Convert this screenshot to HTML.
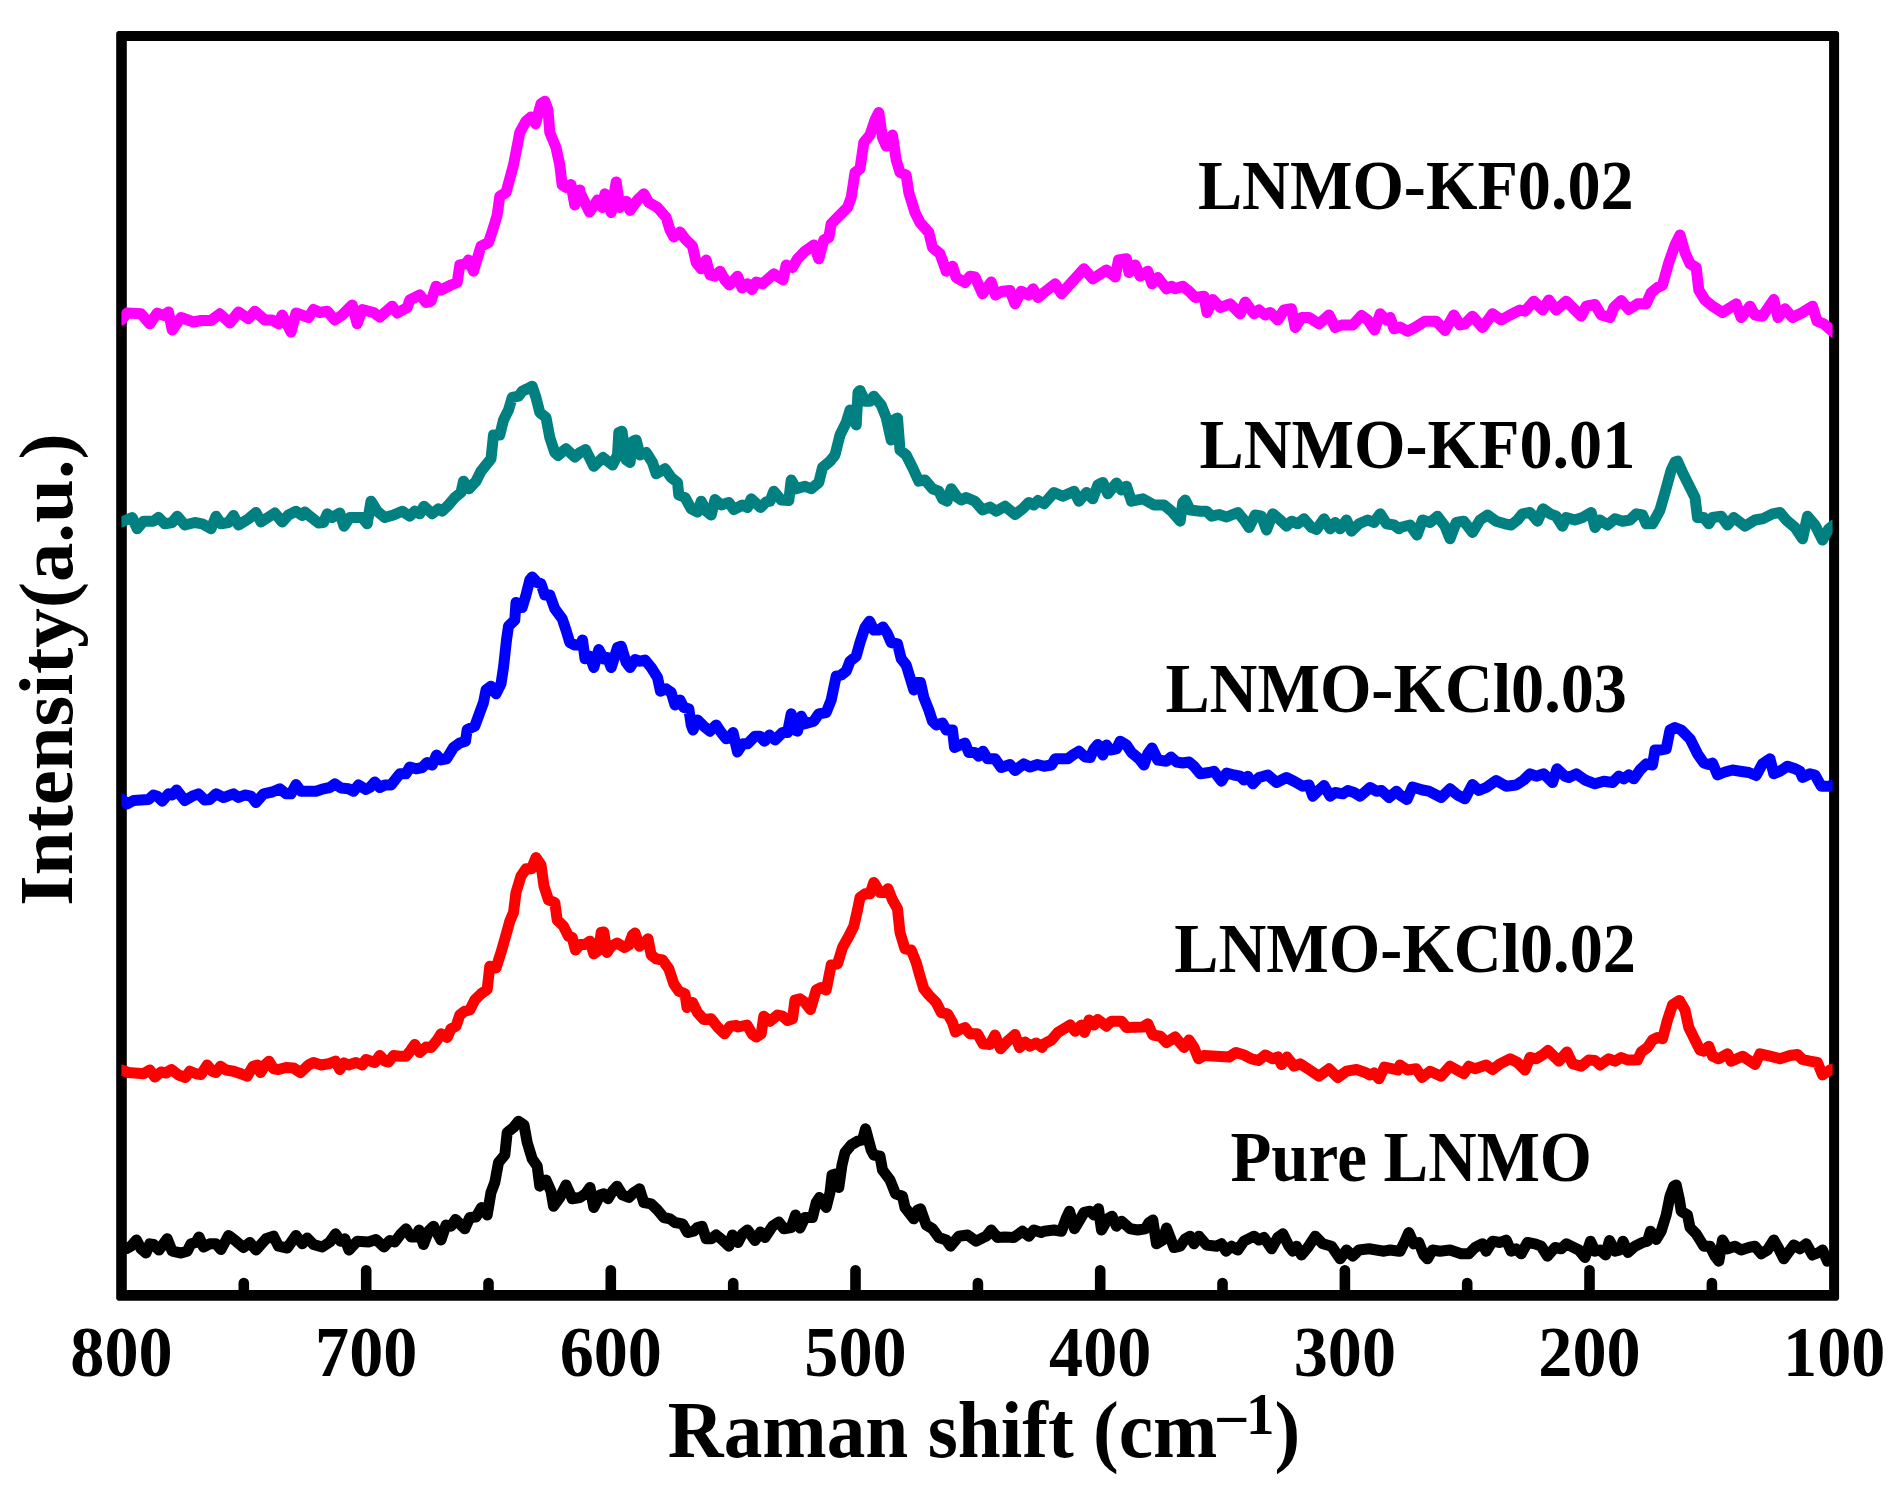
<!DOCTYPE html>
<html><head><meta charset="utf-8"><title>Raman</title>
<style>html,body{margin:0;padding:0;background:#fff}svg{display:block}text{font-family:"Liberation Serif",serif;font-weight:bold;fill:#000}</style></head>
<body>
<svg width="1904" height="1487" viewBox="0 0 1904 1487">
<rect width="1904" height="1487" fill="#fff"/>
<g stroke="#000" stroke-width="10.6" stroke-linecap="round">
<line x1="1711.9" y1="1294.5" x2="1711.9" y2="1283.0"/>
<line x1="1589.5" y1="1294.5" x2="1589.5" y2="1270.2"/>
<line x1="1467.2" y1="1294.5" x2="1467.2" y2="1283.0"/>
<line x1="1344.9" y1="1294.5" x2="1344.9" y2="1270.2"/>
<line x1="1222.5" y1="1294.5" x2="1222.5" y2="1283.0"/>
<line x1="1100.2" y1="1294.5" x2="1100.2" y2="1270.2"/>
<line x1="977.9" y1="1294.5" x2="977.9" y2="1283.0"/>
<line x1="855.5" y1="1294.5" x2="855.5" y2="1270.2"/>
<line x1="733.2" y1="1294.5" x2="733.2" y2="1283.0"/>
<line x1="610.8" y1="1294.5" x2="610.8" y2="1270.2"/>
<line x1="488.5" y1="1294.5" x2="488.5" y2="1283.0"/>
<line x1="366.2" y1="1294.5" x2="366.2" y2="1270.2"/>
<line x1="243.8" y1="1294.5" x2="243.8" y2="1283.0"/>
</g>
<path fill="#000" fill-rule="evenodd" d="M118 30.9H1837.3L1839.1 32.7V1299L1837.3 1300.8H118L116.2 1299V32.7ZM126.8 40.9V1290.1H1829.1V40.9Z"/>
<clipPath id="cp"><rect x="121.4" y="30" width="1711.2" height="1270"/></clipPath>
<g clip-path="url(#cp)" fill="none" stroke-width="11" stroke-linejoin="round" stroke-linecap="butt">
<polyline stroke="#000000" points="113.5,1250.0 121.5,1250.0 126.0,1248.8 131.0,1246.2 136.5,1240.0 141.0,1248.8 146.0,1253.0 149.8,1243.8 153.5,1244.5 159.0,1250.0 167.2,1238.8 172.2,1251.2 181.0,1253.0 187.2,1251.2 191.0,1243.8 196.0,1242.5 199.0,1237.0 203.5,1247.0 209.8,1243.8 216.0,1243.8 221.0,1249.5 228.5,1235.5 236.0,1241.2 243.5,1247.5 249.8,1242.5 256.0,1250.0 266.0,1238.8 273.5,1236.2 278.5,1246.2 287.2,1248.0 296.0,1235.5 302.2,1243.8 307.2,1238.0 313.5,1244.5 322.2,1247.0 329.8,1242.0 335.5,1233.8 340.5,1241.2 344.8,1238.8 349.0,1250.0 357.2,1241.2 368.5,1242.0 376.0,1239.5 384.0,1247.0 389.8,1240.5 394.8,1242.0 401.0,1233.8 406.0,1228.8 411.0,1237.0 416.0,1237.0 419.0,1230.0 423.5,1244.5 428.5,1231.2 433.5,1226.2 441.0,1240.0 446.0,1225.0 451.0,1226.2 455.5,1219.5 464.8,1228.8 469.8,1217.5 476.0,1217.0 481.5,1207.5 487.2,1215.0 491.0,1192.5 494.8,1182.5 498.5,1162.5 504.8,1155.0 507.2,1132.5 513.5,1127.5 518.5,1121.2 524.0,1125.0 527.2,1142.5 532.2,1158.8 537.2,1166.2 539.8,1186.2 546.0,1180.0 551.0,1191.2 553.5,1206.2 559.8,1197.5 566.0,1185.0 572.2,1198.8 580.0,1197.5 585.5,1193.8 590.0,1187.5 593.8,1207.5 600.0,1195.0 603.8,1193.8 608.0,1198.8 612.5,1191.2 617.0,1186.2 622.5,1195.0 628.8,1197.5 633.8,1192.5 639.5,1188.8 643.8,1202.5 651.2,1203.8 657.5,1210.0 663.8,1217.5 670.0,1218.8 675.0,1222.5 682.5,1223.8 687.5,1232.5 693.8,1231.2 697.5,1227.5 702.0,1226.2 706.2,1238.8 711.2,1238.8 716.2,1235.0 722.5,1240.0 728.8,1246.2 732.5,1235.0 738.0,1242.5 742.5,1233.8 747.5,1230.0 755.0,1240.5 760.5,1232.0 765.0,1237.5 772.5,1226.2 778.8,1222.0 783.8,1228.8 791.2,1227.5 795.5,1215.0 800.0,1228.0 805.0,1217.5 812.5,1217.5 816.2,1202.5 819.5,1197.5 826.2,1207.5 830.0,1192.5 832.0,1175.0 836.2,1173.8 838.8,1187.5 842.0,1165.0 845.0,1152.5 851.2,1145.0 857.5,1141.2 862.5,1140.0 865.5,1128.8 871.2,1150.0 873.8,1155.0 880.0,1156.2 882.5,1170.0 890.0,1180.0 895.5,1193.8 902.5,1196.2 905.0,1207.5 913.8,1218.8 917.5,1210.0 920.5,1208.8 926.2,1225.0 932.5,1228.8 938.8,1237.5 946.2,1240.0 950.5,1246.2 958.8,1236.2 967.5,1235.0 976.2,1241.2 986.2,1236.2 991.2,1230.0 997.5,1237.5 1005.0,1237.0 1013.8,1237.5 1022.5,1231.2 1028.8,1236.2 1033.8,1230.0 1041.2,1232.5 1044.0,1231.2 1054.0,1230.0 1061.5,1231.2 1066.5,1217.5 1069.5,1211.2 1074.5,1228.8 1079.0,1221.2 1084.0,1212.5 1090.2,1211.2 1094.0,1215.0 1098.5,1208.8 1101.5,1230.0 1107.8,1218.8 1112.0,1216.2 1116.5,1226.2 1121.5,1221.2 1130.2,1228.8 1137.8,1230.0 1145.2,1228.8 1149.0,1222.5 1152.8,1220.0 1156.5,1243.8 1162.8,1240.0 1166.5,1228.0 1174.0,1247.5 1180.2,1246.2 1185.2,1238.8 1190.2,1236.2 1194.0,1243.8 1199.0,1236.2 1206.5,1245.0 1216.5,1246.2 1221.5,1243.8 1226.0,1251.2 1231.5,1246.2 1237.8,1250.0 1244.0,1241.2 1254.0,1236.2 1259.0,1240.0 1264.0,1237.5 1271.5,1248.8 1277.8,1237.5 1282.8,1233.8 1289.0,1246.2 1292.8,1251.2 1296.5,1246.2 1301.5,1255.0 1307.8,1247.5 1315.2,1236.2 1322.8,1243.8 1331.5,1246.2 1340.2,1258.8 1346.5,1250.0 1352.8,1256.2 1359.0,1250.0 1369.0,1248.8 1376.5,1250.0 1384.0,1251.2 1390.2,1250.0 1399.0,1251.2 1400.0,1251.2 1405.0,1241.2 1408.8,1232.5 1413.8,1243.8 1418.8,1242.5 1423.8,1255.0 1427.5,1258.8 1432.5,1250.0 1440.0,1251.2 1450.0,1250.0 1461.2,1253.8 1468.8,1253.8 1475.0,1247.5 1482.5,1243.8 1486.2,1251.2 1492.5,1241.2 1500.0,1242.5 1506.2,1240.0 1511.2,1251.2 1516.2,1248.8 1521.2,1253.8 1527.5,1242.5 1535.0,1243.8 1541.2,1246.2 1547.5,1256.2 1555.0,1247.5 1561.2,1248.8 1566.2,1243.8 1571.2,1246.2 1578.8,1250.0 1585.0,1257.5 1590.5,1241.2 1595.0,1251.2 1600.0,1250.0 1605.5,1255.0 1609.5,1240.5 1615.0,1251.2 1620.0,1250.0 1623.0,1241.2 1628.0,1252.5 1635.0,1246.2 1642.5,1242.5 1647.5,1241.2 1650.5,1231.2 1656.2,1239.5 1661.2,1231.2 1666.2,1215.0 1670.0,1196.2 1673.8,1186.2 1676.2,1185.0 1679.5,1200.0 1681.2,1211.2 1687.5,1215.0 1690.0,1227.5 1696.2,1233.8 1700.0,1240.0 1703.8,1246.2 1710.0,1246.2 1715.0,1256.2 1718.8,1261.2 1722.5,1240.0 1727.5,1248.8 1735.0,1246.2 1741.2,1250.0 1748.8,1247.5 1755.0,1246.2 1761.2,1253.8 1767.5,1250.0 1773.8,1240.0 1778.8,1248.8 1783.8,1258.8 1793.8,1245.0 1800.0,1248.8 1806.2,1243.8 1812.5,1255.0 1818.8,1252.5 1822.5,1250.0 1827.5,1261.2 1833.8,1260.0 1841.8,1260.0"/>
<polyline stroke="#ff0000" points="113.5,1070.0 121.5,1070.0 128.5,1072.5 143.5,1073.8 149.8,1070.0 154.8,1077.0 161.0,1072.0 166.0,1073.0 171.5,1069.5 178.5,1075.0 185.5,1077.5 189.8,1071.2 196.0,1073.8 201.0,1074.5 207.2,1065.0 212.2,1071.2 216.0,1072.5 220.5,1066.2 226.0,1070.0 233.5,1071.2 241.0,1073.8 247.2,1076.2 253.0,1066.2 257.2,1065.0 260.5,1072.5 266.0,1063.8 269.0,1061.2 273.5,1068.8 278.5,1069.5 286.0,1067.5 293.5,1068.0 300.5,1072.5 308.5,1065.0 313.5,1062.5 321.0,1065.0 328.5,1063.8 335.5,1061.2 339.8,1069.5 344.0,1063.0 348.5,1065.0 356.0,1062.5 362.2,1065.0 366.0,1059.5 374.8,1062.5 379.8,1055.5 384.8,1061.2 388.5,1062.0 393.5,1055.5 399.8,1056.2 406.0,1056.2 411.0,1050.0 414.8,1044.5 419.8,1052.5 426.0,1047.0 431.0,1047.5 437.2,1040.0 441.0,1033.8 447.2,1037.5 451.0,1028.8 456.0,1026.2 459.8,1015.0 464.8,1011.2 469.8,1010.0 474.8,1000.0 481.0,993.8 487.2,989.5 489.8,966.2 496.0,968.0 501.0,952.5 506.0,935.0 509.8,921.2 513.5,912.5 516.0,892.5 521.0,876.2 526.0,868.8 531.5,868.8 536.0,857.5 541.0,865.0 544.0,886.2 548.5,900.0 554.8,902.5 557.2,920.0 563.5,926.2 568.5,936.2 572.2,937.5 575.5,950.0 580.0,944.5 585.0,944.5 590.0,941.2 593.8,953.8 598.8,950.0 601.2,932.5 603.8,932.0 607.0,952.5 611.2,946.2 617.0,943.0 624.5,947.5 628.8,945.0 632.5,935.0 635.0,933.0 639.5,946.2 644.5,942.5 648.0,938.8 651.2,955.0 656.2,958.8 662.5,960.0 668.8,968.8 673.8,983.8 678.8,991.2 685.0,993.8 687.0,1007.5 692.5,1002.5 697.5,1012.5 703.8,1019.5 711.2,1018.8 717.5,1027.0 724.5,1033.8 730.0,1026.2 736.2,1025.5 738.0,1027.0 747.0,1025.0 752.5,1034.5 756.2,1037.0 761.2,1033.8 763.8,1016.2 770.0,1021.2 777.5,1015.0 782.5,1016.2 787.5,1020.5 792.5,1018.8 795.0,1000.0 800.0,998.8 805.0,1002.5 810.5,1009.5 816.2,990.0 821.2,987.5 826.2,990.0 831.2,965.0 837.5,963.8 842.5,947.5 848.8,936.2 853.8,926.2 857.5,910.0 860.0,897.5 865.0,893.8 870.0,893.8 873.8,882.5 880.0,892.5 885.0,892.5 888.0,888.8 892.5,900.0 897.5,908.8 900.0,932.5 905.0,948.8 911.2,950.0 916.2,962.5 920.0,976.2 923.8,988.8 928.8,995.0 936.2,1002.5 941.2,1012.5 947.5,1013.8 952.5,1022.5 955.5,1032.0 960.0,1029.5 965.0,1027.5 970.0,1033.8 977.5,1033.8 983.0,1043.8 990.0,1044.5 995.0,1035.0 1000.5,1048.8 1007.5,1041.2 1015.0,1034.5 1019.5,1047.5 1025.0,1042.0 1030.0,1046.2 1036.2,1043.0 1042.0,1047.5 1044.0,1043.8 1051.5,1040.0 1057.8,1032.5 1064.0,1028.8 1070.2,1025.0 1075.2,1031.2 1081.5,1025.0 1084.5,1032.5 1089.0,1020.0 1094.0,1025.0 1097.8,1019.5 1106.5,1026.2 1111.5,1021.2 1121.5,1021.2 1126.5,1027.5 1142.8,1027.0 1147.8,1023.8 1152.8,1035.0 1160.2,1036.2 1166.5,1042.5 1175.2,1037.0 1184.0,1047.5 1189.0,1040.0 1194.0,1047.5 1198.5,1058.8 1204.0,1055.5 1229.0,1057.0 1236.0,1052.5 1244.0,1055.0 1251.5,1058.8 1258.5,1060.5 1265.2,1055.0 1272.8,1058.8 1277.8,1057.0 1281.5,1064.5 1287.0,1057.0 1294.0,1066.2 1300.2,1063.8 1309.0,1069.5 1319.0,1076.2 1329.0,1068.8 1337.8,1077.5 1346.5,1071.2 1356.5,1069.5 1365.2,1072.5 1370.2,1075.0 1374.0,1073.0 1379.0,1078.8 1384.5,1067.0 1392.8,1068.8 1397.8,1070.0 1400.0,1065.0 1407.5,1070.0 1416.2,1068.8 1422.0,1077.5 1430.0,1071.2 1441.2,1076.2 1450.0,1066.2 1463.8,1073.8 1468.8,1066.2 1475.0,1068.8 1486.2,1065.0 1492.5,1069.5 1500.0,1063.8 1510.0,1058.8 1517.5,1062.5 1525.0,1070.0 1530.0,1057.5 1536.2,1058.8 1542.5,1055.0 1548.0,1050.5 1558.8,1061.2 1567.0,1052.0 1572.5,1063.8 1581.2,1066.2 1588.8,1060.0 1595.0,1060.5 1600.0,1065.0 1608.8,1058.8 1615.0,1061.2 1621.2,1057.5 1627.5,1060.0 1637.5,1060.0 1641.2,1052.0 1647.5,1047.5 1652.5,1040.0 1657.5,1037.5 1662.5,1038.8 1667.5,1020.0 1672.5,1005.0 1679.5,1000.5 1685.0,1010.0 1688.8,1027.5 1695.0,1040.0 1700.0,1050.0 1703.8,1051.2 1708.8,1046.2 1712.5,1056.2 1718.8,1058.8 1727.5,1053.8 1731.2,1061.2 1742.5,1056.2 1755.0,1064.5 1760.0,1053.8 1770.0,1056.2 1780.0,1058.8 1790.0,1055.5 1797.5,1054.5 1802.5,1059.5 1810.0,1061.2 1817.5,1062.5 1822.5,1075.0 1830.0,1070.0 1833.8,1068.8 1841.8,1068.8"/>
<polyline stroke="#0000ff" points="113.5,798.8 121.5,798.8 127.2,803.8 133.5,800.5 148.5,799.5 153.5,795.0 157.2,796.2 162.2,801.2 168.5,793.8 172.2,795.0 176.5,790.0 184.8,800.5 192.2,796.2 198.5,793.8 204.8,800.0 209.8,799.5 216.0,793.8 223.5,797.5 227.2,796.2 233.5,793.8 238.5,797.5 244.8,795.0 251.0,796.2 256.0,802.5 263.5,793.8 272.2,792.0 279.8,788.8 286.0,793.8 291.0,793.8 296.0,784.5 301.0,791.2 316.0,791.2 323.5,788.8 329.8,787.5 334.8,783.8 341.0,788.0 348.5,788.8 353.5,791.2 358.5,785.0 366.0,789.5 369.8,787.5 374.8,782.0 379.8,787.5 384.8,785.0 391.0,785.0 399.8,773.8 406.0,773.8 409.8,767.0 416.0,768.8 422.2,767.5 427.2,762.5 432.2,765.0 436.5,755.0 441.0,760.0 446.5,758.8 453.5,747.5 459.8,743.0 465.5,741.2 467.2,729.5 474.8,726.2 479.8,712.5 483.5,702.5 486.0,690.0 491.0,686.2 496.0,693.8 501.0,683.8 503.5,667.5 506.5,640.0 508.5,626.2 514.8,620.0 516.0,602.5 522.2,607.5 526.0,595.0 529.8,580.0 532.2,577.0 537.2,582.5 541.0,583.8 544.8,595.0 549.8,595.0 554.8,608.8 562.2,618.8 566.0,630.0 569.8,642.5 574.8,645.0 580.0,645.0 582.5,640.0 585.0,658.8 590.0,656.2 593.8,667.5 598.8,649.5 603.8,658.8 607.5,657.5 611.2,667.5 617.5,647.5 621.2,646.2 626.2,662.5 630.0,667.5 635.0,659.5 640.0,661.2 645.0,660.0 651.2,667.5 657.5,677.5 660.5,691.2 666.2,688.8 671.2,692.5 675.0,705.0 680.0,700.0 683.8,707.5 688.8,708.8 691.2,725.0 693.0,730.0 697.5,720.0 703.8,726.2 710.0,731.2 716.2,725.0 721.2,732.5 726.2,738.8 730.0,737.5 733.0,732.5 737.5,752.0 742.5,743.8 747.5,743.8 755.0,736.2 760.0,736.2 764.5,741.2 769.5,735.0 775.0,740.0 782.5,732.5 787.5,732.5 791.2,713.8 794.5,730.0 797.5,731.2 801.2,716.2 805.0,723.8 813.8,721.2 818.8,713.8 826.2,712.5 831.2,700.0 836.2,676.2 841.2,675.0 846.2,671.2 850.0,661.2 856.2,656.2 860.0,642.5 865.0,627.5 869.5,621.2 873.8,630.0 878.8,630.0 883.0,627.0 887.5,633.8 891.2,642.5 897.5,643.8 901.2,658.8 906.2,665.0 910.0,677.5 913.8,690.0 916.2,682.5 920.5,682.5 923.8,697.5 928.8,710.0 932.5,721.2 936.2,725.0 942.5,723.0 946.2,730.0 952.5,730.0 954.5,747.5 960.0,745.0 965.0,743.0 968.8,752.5 975.0,752.5 978.8,756.2 983.0,751.2 987.5,758.8 995.0,758.8 1001.2,767.5 1010.0,764.5 1015.0,770.5 1023.8,763.8 1030.0,767.0 1037.5,764.5 1044.0,766.2 1051.5,765.0 1055.2,758.8 1067.8,758.8 1072.8,755.0 1079.0,751.2 1085.2,757.0 1090.2,757.5 1094.0,748.8 1097.8,744.5 1102.8,755.0 1106.5,745.0 1110.2,750.0 1116.5,748.8 1120.2,741.2 1126.5,745.0 1131.5,752.5 1139.0,758.8 1144.0,765.0 1147.8,753.8 1152.0,748.0 1157.8,760.0 1166.5,761.2 1171.0,757.0 1176.5,762.0 1182.8,763.0 1189.0,762.0 1194.0,766.2 1200.2,773.8 1209.0,772.5 1214.0,771.2 1221.5,781.2 1226.5,773.0 1234.0,775.0 1240.2,776.2 1244.0,780.0 1247.8,776.2 1252.8,783.8 1259.0,777.5 1267.8,775.0 1276.5,782.5 1286.5,777.5 1294.0,781.2 1302.8,786.2 1309.0,785.0 1312.8,796.2 1319.0,790.0 1324.0,785.5 1330.2,796.2 1335.2,792.5 1342.8,793.8 1347.8,790.5 1354.0,792.5 1360.2,796.2 1370.2,787.5 1376.5,791.2 1381.5,790.5 1389.0,797.5 1396.5,791.2 1400.0,795.0 1407.0,799.5 1412.5,787.0 1422.5,790.0 1428.8,791.2 1441.2,797.5 1450.0,788.8 1457.5,795.0 1465.0,798.8 1472.5,784.5 1478.8,790.5 1486.2,787.5 1496.2,780.5 1506.2,786.2 1516.2,785.0 1523.8,780.0 1530.0,773.8 1536.2,776.2 1543.8,773.8 1552.5,782.5 1557.0,768.8 1565.0,776.2 1568.8,777.5 1576.2,773.8 1585.0,780.0 1595.0,783.8 1603.8,781.2 1612.5,782.5 1618.8,776.2 1623.8,778.8 1628.8,775.0 1633.8,778.8 1640.0,770.0 1646.2,763.8 1652.5,765.0 1655.0,750.0 1661.2,750.0 1666.2,748.8 1670.0,730.0 1675.0,727.5 1681.2,730.0 1690.0,738.8 1697.5,753.8 1703.8,763.0 1708.8,764.5 1712.5,763.0 1717.5,775.0 1725.0,772.0 1732.5,770.0 1740.0,771.2 1748.8,772.5 1756.2,775.5 1762.5,763.8 1770.0,758.8 1773.8,773.8 1780.0,771.2 1787.5,766.2 1795.0,768.8 1800.0,771.2 1802.5,777.5 1810.0,773.8 1815.0,775.0 1821.2,786.2 1828.8,786.2 1833.8,785.0 1841.8,785.0"/>
<polyline stroke="#008080" points="113.5,522.0 121.5,522.0 132.2,517.5 137.2,528.8 143.5,521.2 153.5,521.2 158.5,517.5 164.8,523.8 172.2,522.5 177.2,516.2 184.8,525.0 194.8,522.5 202.2,523.8 211.0,528.8 216.0,516.2 221.0,523.8 228.5,522.5 233.5,515.5 238.5,525.0 248.5,518.8 256.0,512.5 261.0,522.0 274.8,513.0 282.2,522.0 288.5,515.0 296.0,511.2 302.2,515.5 304.8,512.0 309.8,516.2 318.5,523.0 323.5,522.5 327.2,513.8 332.2,517.5 339.8,513.0 344.0,526.2 349.8,517.5 362.2,517.5 367.2,523.8 371.0,501.2 377.2,511.2 384.8,517.5 393.5,515.0 402.2,511.2 409.8,516.2 414.8,511.2 419.8,513.8 424.0,506.2 432.2,513.8 438.5,508.8 442.2,511.2 448.5,505.0 454.8,497.5 461.0,492.5 463.5,481.2 469.0,488.8 476.0,481.2 481.0,471.2 486.0,465.0 491.0,458.8 493.5,435.0 499.8,435.0 503.5,420.0 508.5,410.0 512.2,397.5 518.5,396.2 522.2,391.2 527.2,388.8 532.2,386.2 536.0,397.5 539.8,412.5 546.0,417.5 549.8,437.5 554.8,452.5 558.0,455.5 566.0,448.8 574.8,457.0 580.0,452.5 585.5,449.5 593.8,466.2 603.0,457.5 612.5,465.0 617.5,455.0 618.8,432.5 622.0,431.2 626.2,460.0 630.0,462.5 633.0,441.2 636.2,440.0 640.0,455.0 646.2,452.5 652.5,462.5 656.2,473.8 665.0,468.8 671.2,477.5 677.5,482.5 678.8,495.0 685.0,497.5 691.2,508.8 697.5,512.0 701.2,501.2 706.2,511.2 711.2,515.0 715.0,499.5 721.2,505.0 728.8,502.5 733.8,509.5 742.5,505.0 747.5,507.5 751.2,498.8 760.5,507.5 766.2,502.0 770.0,501.2 773.8,491.2 781.2,500.0 788.8,500.5 791.2,480.0 796.2,488.8 805.0,486.2 811.2,488.8 818.8,482.5 822.5,467.5 830.0,461.2 835.0,455.0 840.0,435.0 846.2,422.5 850.0,410.0 856.2,425.0 858.0,392.5 860.0,390.5 865.0,401.2 870.0,401.2 873.8,396.2 881.2,405.0 886.2,417.5 891.2,440.0 895.5,418.8 897.5,418.0 900.0,450.0 906.2,455.0 912.5,467.5 918.8,481.2 925.0,480.0 932.5,488.8 938.8,491.2 942.5,498.8 947.0,501.2 951.2,488.8 957.5,497.5 961.2,500.0 966.2,497.5 975.0,501.2 982.5,510.0 990.0,507.0 996.2,511.2 1005.0,506.2 1015.0,514.5 1022.5,508.8 1028.8,502.5 1033.8,505.0 1038.0,500.5 1044.0,503.8 1054.0,492.5 1062.8,496.2 1074.0,491.2 1079.0,501.2 1086.5,492.5 1092.8,498.8 1097.8,485.0 1102.8,482.5 1107.8,493.8 1116.5,483.0 1121.5,490.0 1126.5,486.2 1131.5,501.2 1142.8,498.8 1154.0,505.0 1164.0,505.0 1171.5,511.2 1180.2,521.2 1182.8,502.5 1185.2,500.0 1190.2,510.0 1200.2,511.2 1206.5,511.2 1211.5,516.2 1219.0,514.5 1226.5,517.0 1237.8,512.5 1244.0,520.0 1249.0,527.5 1255.2,515.0 1261.5,516.2 1266.5,530.0 1272.8,513.8 1280.2,520.0 1286.5,526.2 1291.5,521.2 1297.8,523.8 1304.0,518.8 1311.5,527.5 1316.5,529.5 1324.0,518.8 1330.2,528.8 1335.2,522.5 1340.2,528.8 1346.5,520.0 1351.5,531.2 1359.0,523.8 1367.8,520.0 1374.0,522.5 1380.2,513.8 1386.5,523.8 1394.0,525.0 1399.0,528.8 1400.0,527.5 1410.0,525.0 1417.0,535.0 1422.5,520.0 1430.0,522.5 1437.5,516.2 1445.0,526.2 1450.0,538.8 1456.2,522.5 1463.8,521.2 1472.5,532.5 1480.0,520.0 1487.5,515.0 1496.2,521.2 1505.0,523.8 1511.2,525.0 1517.5,520.0 1522.5,513.8 1530.0,512.5 1537.5,521.2 1543.0,508.8 1550.0,513.8 1556.2,516.2 1562.5,526.2 1566.2,517.5 1575.0,520.0 1582.5,517.5 1591.2,512.5 1595.0,527.5 1600.0,520.0 1607.5,525.0 1615.0,518.8 1622.5,521.2 1630.0,520.0 1636.2,513.8 1642.5,515.0 1646.2,523.8 1652.5,523.8 1660.0,510.0 1665.0,492.5 1671.2,470.0 1675.0,462.0 1677.5,461.2 1682.5,472.5 1690.0,487.5 1695.0,497.5 1697.5,517.5 1703.8,517.5 1708.8,523.8 1712.5,517.5 1721.2,516.2 1727.5,525.0 1733.8,517.5 1745.0,526.2 1755.0,520.0 1762.5,518.8 1772.5,513.8 1780.0,512.5 1786.2,520.0 1795.0,527.5 1802.5,538.8 1807.5,516.2 1815.0,525.0 1822.5,540.0 1828.8,528.8 1833.8,525.0 1841.8,525.0"/>
<polyline stroke="#ff00ff" points="113.5,320.0 121.5,320.0 127.2,313.0 141.0,313.8 149.8,323.8 157.2,313.0 163.5,315.5 168.5,312.0 172.2,330.0 181.0,317.5 193.5,322.0 201.0,320.5 211.0,320.5 219.8,313.8 229.8,323.0 238.5,312.0 248.5,318.8 254.8,311.2 264.8,320.0 272.2,320.0 278.5,323.8 282.2,315.0 291.0,332.0 296.0,313.0 308.5,317.5 313.5,309.5 319.8,312.5 327.2,311.2 334.8,320.0 342.2,315.0 352.2,305.0 357.2,323.8 362.2,309.5 373.5,312.5 379.8,317.0 392.2,306.2 397.2,313.0 407.2,307.5 409.8,300.0 419.8,295.0 426.0,302.5 431.0,301.2 436.0,286.2 441.0,290.0 451.0,285.0 457.2,282.5 459.8,265.0 466.0,263.8 468.5,260.0 473.5,271.2 481.0,246.2 488.5,242.5 493.5,227.5 497.2,215.0 499.8,196.2 506.0,192.5 513.5,165.0 519.8,132.5 526.0,121.2 531.0,117.0 535.5,123.8 541.0,103.8 544.8,101.2 548.0,110.0 549.8,132.5 556.0,147.5 559.8,165.0 562.2,185.0 566.0,187.5 571.0,184.5 574.8,205.0 579.8,190.0 580.0,192.5 589.5,212.0 597.5,200.0 602.5,207.5 605.0,193.8 611.2,212.5 616.2,182.0 620.0,207.5 626.2,201.2 630.0,210.5 637.5,200.0 643.8,193.8 648.8,202.5 657.5,207.5 666.2,217.5 670.0,230.0 673.8,237.0 680.0,232.0 685.0,238.8 692.5,246.2 696.2,262.5 701.2,268.8 706.2,260.0 710.0,275.0 715.0,276.2 720.0,271.2 725.0,280.0 729.5,285.0 737.5,276.2 742.0,288.0 747.5,283.8 752.0,289.5 756.2,282.0 762.5,283.8 773.8,273.8 783.0,280.0 786.2,265.0 792.5,267.5 797.5,258.8 805.0,251.2 813.8,245.0 818.8,258.8 823.8,240.0 828.8,237.5 831.2,223.8 840.0,215.0 847.5,207.5 851.2,197.5 855.0,172.5 860.0,168.8 863.8,142.5 870.0,135.0 875.0,120.0 878.8,112.5 882.5,137.5 886.2,146.2 892.5,135.0 896.2,160.0 900.0,172.5 906.2,175.0 908.8,192.5 915.0,212.5 920.0,222.5 928.8,232.5 932.5,247.5 940.0,253.8 945.0,267.5 946.2,271.2 952.5,266.2 956.2,277.5 965.0,282.5 970.0,276.2 975.0,277.0 982.5,293.8 991.2,282.0 995.5,295.0 1002.5,291.2 1010.0,290.5 1015.0,303.8 1021.2,291.2 1028.8,295.0 1033.0,288.8 1038.0,297.5 1044.0,292.5 1055.2,283.8 1061.5,293.8 1071.5,282.5 1084.0,268.8 1092.8,278.8 1106.5,270.0 1115.2,277.0 1118.5,260.0 1126.5,258.8 1129.0,272.5 1135.2,265.0 1140.2,276.2 1147.8,271.2 1152.0,283.8 1157.8,277.5 1166.5,288.8 1171.5,286.2 1175.2,288.8 1182.8,286.2 1189.0,291.2 1195.2,297.5 1204.0,296.2 1207.0,312.5 1212.8,299.5 1220.2,307.5 1230.2,303.8 1240.2,313.8 1245.2,302.0 1254.0,313.8 1259.0,310.0 1265.2,315.0 1270.2,312.5 1277.8,320.0 1284.0,310.0 1291.5,308.8 1295.2,327.5 1301.5,317.5 1309.0,317.5 1319.0,323.8 1329.0,315.0 1335.2,327.5 1341.5,325.0 1352.8,325.0 1361.5,315.5 1367.8,320.0 1374.5,330.0 1380.2,313.8 1386.5,320.0 1390.2,317.5 1394.0,328.8 1400.0,327.0 1407.5,331.2 1415.0,327.5 1425.0,321.2 1436.2,321.2 1445.0,330.5 1453.8,315.0 1460.0,325.0 1465.0,323.8 1472.5,316.2 1482.5,327.5 1492.5,313.8 1501.2,320.0 1510.0,315.0 1520.0,310.0 1525.0,311.2 1533.8,301.2 1542.5,310.0 1548.8,300.0 1556.2,310.0 1566.2,301.2 1575.0,310.0 1581.2,316.2 1586.2,306.2 1595.0,304.5 1601.2,315.0 1610.0,317.5 1613.8,307.5 1621.2,300.5 1628.8,309.5 1637.5,303.8 1646.2,303.8 1651.2,292.5 1657.5,287.5 1662.5,285.0 1668.8,262.5 1675.0,245.0 1680.0,235.0 1685.0,252.5 1690.0,263.8 1696.2,267.5 1698.8,290.0 1705.0,300.0 1712.5,306.2 1722.5,312.5 1736.2,303.8 1741.2,317.5 1750.0,306.2 1755.0,315.0 1762.5,316.2 1773.8,299.5 1778.0,317.5 1785.0,308.8 1792.5,317.5 1802.5,312.5 1812.5,306.2 1817.0,321.2 1823.8,323.8 1833.8,332.5 1841.8,332.5"/>
</g>
<text transform="translate(1834.2,1376.2) scale(1,1.057)" font-size="68.2" text-anchor="middle">100</text>
<text transform="translate(1589.5,1376.2) scale(1,1.057)" font-size="68.2" text-anchor="middle">200</text>
<text transform="translate(1344.9,1376.2) scale(1,1.057)" font-size="68.2" text-anchor="middle">300</text>
<text transform="translate(1100.2,1376.2) scale(1,1.057)" font-size="68.2" text-anchor="middle">400</text>
<text transform="translate(855.5,1376.2) scale(1,1.057)" font-size="68.2" text-anchor="middle">500</text>
<text transform="translate(610.8,1376.2) scale(1,1.057)" font-size="68.2" text-anchor="middle">600</text>
<text transform="translate(366.2,1376.2) scale(1,1.057)" font-size="68.2" text-anchor="middle">700</text>
<text transform="translate(121.5,1376.2) scale(1,1.057)" font-size="68.2" text-anchor="middle">800</text>
<text transform="translate(984.0,1457) scale(1,1.035)" font-size="77.3" text-anchor="middle">Raman shift (cm<tspan font-size="57" dy="-22.7">–1</tspan><tspan dy="22.7">)</tspan></text>
<text transform="translate(71.8,669.6) rotate(-90) scale(1.044,1)" font-size="75.5" text-anchor="middle">Intensity(a.u.)</text>
<text transform="translate(1415.8,208.8) scale(1,1.06)" font-size="66.2" text-anchor="middle">LNMO-KF0.02</text>
<text transform="translate(1417.4,467.7) scale(1,1.06)" font-size="66.2" text-anchor="middle">LNMO-KF0.01</text>
<text transform="translate(1396.2,711.9) scale(1,1.06)" font-size="66.2" text-anchor="middle">LNMO-KCl0.03</text>
<text transform="translate(1405.1,971.8) scale(1,1.06)" font-size="66.2" text-anchor="middle">LNMO-KCl0.02</text>
<text transform="translate(1411.2,1181.0) scale(1,1.06)" font-size="67.0" text-anchor="middle">Pure LNMO</text>
</svg>
</body></html>
